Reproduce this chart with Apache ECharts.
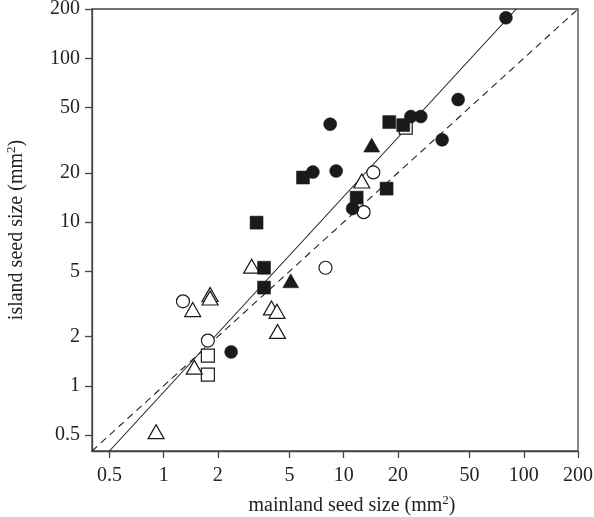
<!DOCTYPE html>
<html>
<head>
<meta charset="utf-8">
<script src="https://cdn.jsdelivr.net/npm/echarts@6/dist/echarts.min.js"></script>
<style>
html,body{margin:0;padding:0;background:#fff;}
#c{width:594px;height:517px;}
</style>
</head>
<body>
<div id="c"></div>
<script>
// axis settings
var axisMin = 0.4, axisMax = 200;
var tickValues = [0.5, 1, 2, 5, 10, 20, 50, 100, 200];
var tickLabels = ['0.5', '1', '2', '5', '10', '20', '50', '100', '200'];

// data: [mainland, island]
var filledCircleX = [79.6, 43.2, 35.2, 8.41, 23.6, 26.8, 6.74, 9.08, 11.2, 2.37];
var filledCircleY = [176.8, 56.0, 31.8, 39.6, 44.1, 44.1, 20.2, 20.5, 12.1, 1.61];
var openCircleX = [1.28, 1.76, 7.92, 14.6, 12.9];
var openCircleY = [3.28, 1.89, 5.26, 20.1, 11.5];
var filledSquareX = [17.9, 21.4, 5.94, 17.3, 11.8, 3.28, 3.61, 3.61];
var filledSquareY = [40.8, 39.1, 18.7, 16.0, 14.1, 9.92, 5.26, 3.98];
var openSquareX = [1.76, 1.76, 22.1];
var openSquareY = [1.53, 1.17, 37.7];
var filledTriangleX = [14.3, 5.08];
var filledTriangleY = [29.5, 4.38];
var openTriangleX = [3.08, 1.45, 1.81, 1.81, 3.97, 4.26, 4.29, 1.48, 0.908, 12.6];
var openTriangleY = [5.38, 2.92, 3.61, 3.44, 2.99, 2.85, 2.15, 1.30, 0.525, 17.8];

// reference lines
var oneToOneX = [0.4, 200];
var oneToOneY = [0.4, 200];
var fitLineX = [0.5, 90.8];
var fitLineY = [0.4, 200];

function lg(v){ return Math.log10(v); }
function pts(xs, ys){ return xs.map(function(x, i){ return [lg(x), lg(ys[i])]; }); }
var tickLog = tickValues.map(lg);
function fmt(v){
  var best = 0, d = Infinity;
  for (var i = 0; i < tickLog.length; i++) {
    var dd = Math.abs(tickLog[i] - v);
    if (dd < d) { d = dd; best = i; }
  }
  return tickLabels[best];
}

var ink = '#1a1a1a';
var font = 'Liberation Serif';
var rich = {
  sup: {fontSize: 13, fontFamily: font, color: '#222', verticalAlign: 'top', padding: [0, 0, 10, 0]}
};

function axisCommon(){
  return {
    type: 'value',
    min: lg(axisMin),
    max: lg(axisMax),
    splitLine: {show: false},
    axisLine: {show: true, onZero: false, lineStyle: {color: '#444', width: 1.3}},
    axisTick: {show: true, customValues: tickLog, length: 7, lineStyle: {color: '#444', width: 1.3}},
    axisLabel: {customValues: tickLog, formatter: fmt, fontFamily: font, fontSize: 20, color: '#222',
                hideOverlap: false, showMinLabel: true, showMaxLabel: true},
    nameLocation: 'middle'
  };
}

var xAxis = axisCommon();
xAxis.axisLabel.margin = 15;
xAxis.name = 'mainland seed size (mm{sup|2})';
xAxis.nameGap = 43;
xAxis.nameTextStyle = {fontFamily: font, fontSize: 20, color: '#222', padding: [0, 0, 0, 34], rich: rich};

var yAxis = axisCommon();
yAxis.axisLabel.margin = 12;
yAxis.name = 'island seed size (mm{sup|2})';
yAxis.nameGap = 64;
yAxis.nameTextStyle = {fontFamily: font, fontSize: 20, color: '#222', rich: rich};

function scatter(name, xs, ys, symbol, size, filled, z){
  return {
    name: name,
    type: 'scatter',
    data: pts(xs, ys),
    symbol: symbol,
    symbolSize: size,
    z: z,
    itemStyle: filled
      ? {color: ink, borderColor: ink, borderWidth: 0.5, opacity: 1}
      : {color: '#fff', borderColor: ink, borderWidth: 1.2, opacity: 1},
    emphasis: {disabled: true}
  };
}

var chart = echarts.init(document.getElementById('c'), null, {renderer: 'canvas'});
chart.setOption({
  animation: false,
  backgroundColor: '#fff',
  grid: {left: 92, right: 16, top: 9, bottom: 66, outerBoundsMode: 'none', containLabel: false,
         show: true, borderColor: '#444', borderWidth: 1.3, backgroundColor: 'transparent'},
  xAxis: xAxis,
  yAxis: yAxis,
  series: [
    {type: 'line', data: pts(oneToOneX, oneToOneY), symbol: 'none', clip: true, z: 1,
     lineStyle: {color: '#222', width: 1.1, type: [7, 5]}, silent: true},
    {type: 'line', data: pts(fitLineX, fitLineY), symbol: 'none', clip: true, z: 1,
     lineStyle: {color: '#222', width: 1.1}, silent: true},
    scatter('open square', openSquareX, openSquareY, 'rect', 13, false, 2),
    scatter('open triangle', openTriangleX, openTriangleY, 'triangle', [16, 14], false, 2),
    scatter('open circle', openCircleX, openCircleY, 'circle', 13, false, 2),
    scatter('filled square', filledSquareX, filledSquareY, 'rect', 13, true, 3),
    scatter('filled triangle', filledTriangleX, filledTriangleY, 'triangle', [16, 14], true, 3),
    scatter('filled circle', filledCircleX, filledCircleY, 'circle', 13, true, 3)
  ]
});
</script>
</body>
</html>
